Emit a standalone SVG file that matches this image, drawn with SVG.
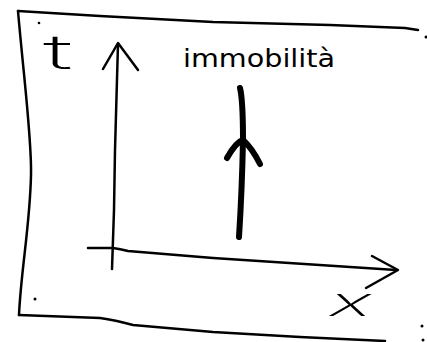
<svg xmlns="http://www.w3.org/2000/svg" width="427" height="342" viewBox="0 0 427 342">
<style>
.ln{fill:none;stroke:#000;stroke-width:2.5;stroke-linecap:round;stroke-linejoin:round}
.thick{fill:none;stroke:#000;stroke-width:6;stroke-linecap:round;stroke-linejoin:round}
.lbl{font-family:"DejaVu Sans",sans-serif;fill:#000}
.thin{font-family:Inter,"Open Sans",sans-serif;font-weight:200;fill:#000}
</style>
<rect width="427" height="342" fill="#fff"/>
<g id="frame">
<path class="ln" d="M18,11 L100,16 L213,22 L330,25 L405,28 L418,30"/>
<path class="ln" d="M18,11 C24,80 32,140 31,175 C30,225 21,270 19,315"/>
<path class="ln" d="M19,315 L100,318 Q115,320 133,325 L213,332 L300,337 L385,341"/>
<g fill="#000">
<circle cx="39" cy="23" r="1.3"/>
<circle cx="35" cy="299" r="1.5"/>
<circle cx="426" cy="37" r="1.5"/>
<circle cx="422" cy="326" r="1.5"/>
<circle cx="423" cy="340" r="1.5"/>
</g>
</g>
<g id="connectors">
<g id="t-axis">
<path class="ln" d="M112,269 L114,210 L115,150 L118,44"/>
<path class="ln" d="M103,69 L118,43 L138,70"/>
</g>
<g id="x-axis">
<path class="ln" d="M88,248 L113,248 Q120,249 128,251 L213,258 L396,270"/>
<path class="ln" d="M372,256 L398,270 L366,288"/>
</g>
<g id="worldline">
<path class="thick" d="M240,88 Q243,100 243,140 Q242,190 239,237"/>
<path class="thick" d="M227,158 Q236,142 243,140 Q252,148 260,164"/>
</g>
</g>
<g id="label-t">
<text class="thin" x="0" y="0" font-size="48" transform="translate(43,69) scale(2.3,1)">t</text>
</g>
<g id="label-x">
<text class="thin" x="0" y="0" font-size="40" font-style="italic" transform="translate(330,316) scale(2.0,1)">x</text>
</g>
<g id="label-immobilita">
<text class="lbl" x="183" y="67" font-size="25" textLength="152" lengthAdjust="spacingAndGlyphs">immobilità</text>
</g>
</svg>
